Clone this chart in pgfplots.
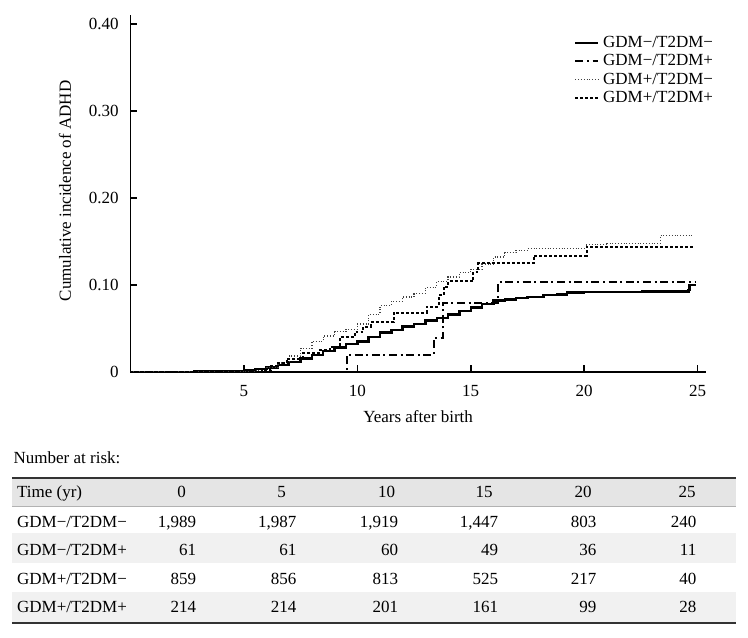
\documentclass[border=0pt]{standalone}
\usepackage{pgfplots}
\pgfplotsset{compat=1.18}
\usepackage{fontspec}
\setmainfont{Liberation Serif}
\begin{document}
\fontsize{8.5}{10}\selectfont
\begin{tikzpicture}
\begin{axis}[
  at={(0,0)}, anchor=south west,
  scale only axis, width=287.6pt, height=178.35pt,
  xmin=0, xmax=25.36, ymin=0, ymax=0.4107,
  axis lines=left, axis line style={-, line width=0.8pt, black},
  xtick={5,10,15,20,25}, xticklabels={5,10,15,20,25},
  ytick={0,0.1,0.2,0.3,0.4}, yticklabels={0,0.10,0.20,0.30,0.40},
  tick align=inside, major tick length=3.2pt,
  tick style={line width=0.8pt, black},
  xticklabel style={anchor=north, inner sep=0pt, yshift=-6.7pt},
  yticklabel style={anchor=east, inner sep=0pt, xshift=-5.75pt},
  xlabel={Years after birth},
  ylabel={Cumulative incidence of ADHD},
  xlabel style={at={(axis description cs:0.5,-0.126)}, anchor=center},
  ylabel style={at={(axis description cs:-0.1139,0.507)}, anchor=center},
  legend style={at={(axis description cs:0.7713,0.9476)}, anchor=north west,
    draw=none, fill=none, inner sep=0pt, outer sep=0pt, row sep=0pt,
    nodes={inner xsep=2pt, inner ysep=0.85pt, text height=6pt, text depth=1.5pt}},
  legend cell align=left,
  legend image code/.code={\draw[#1] (0pt,0pt) -- (11.3pt,0pt);},
  clip=true,
]
\addplot[const plot, line width=1.2pt, black] coordinates {
(0,0) (2.8,0.0005) (4.5,0.001) (5.0,0.002) (5.5,0.003) (6.0,0.005) (6.5,0.008)
(7.0,0.011) (7.5,0.015) (8.0,0.019) (8.5,0.024) (9.0,0.028) (9.5,0.032)
(10.0,0.035) (10.5,0.040) (11.0,0.045) (11.5,0.048) (12.0,0.052) (12.5,0.055)
(13.0,0.059) (13.5,0.062) (14.0,0.066) (14.5,0.070) (15.0,0.074) (15.5,0.078)
(16.0,0.082) (16.5,0.083) (17.0,0.085) (17.5,0.086) (18.2,0.088) (18.8,0.089)
(19.24,0.091) (20.0,0.0915) (22.55,0.0925) (24.6,0.094) (24.65,0.0998) (24.95,0.0998)
};
\addlegendentry{GDM−/T2DM−}
\addplot[const plot, line width=1pt, black, dash pattern=on 4pt off 1.8pt on 1pt off 1.8pt] coordinates {
(0,0) (9.54,0.0192) (13.36,0.039) (13.77,0.0795) (16.22,0.103) (24.9,0.103)
};
\addlegendentry{GDM−/T2DM+}
\addplot[const plot, line width=0.6pt, black!75, dash pattern=on 0.5pt off 0.9pt] coordinates {
(0,0) (5.5,0.001) (6.0,0.005) (6.5,0.010) (7.0,0.018) (7.5,0.027) (8.0,0.035)
(8.5,0.041) (9.0,0.046) (9.5,0.049) (10.0,0.055) (10.5,0.066) (11.0,0.076)
(11.5,0.081) (12.0,0.086) (12.5,0.090) (13.0,0.097) (13.5,0.104) (14.0,0.109)
(14.5,0.114) (15.0,0.118) (15.5,0.124) (16.0,0.132) (16.5,0.137) (17.0,0.140)
(17.5,0.142) (20.1,0.146) (21.0,0.148) (23.36,0.157) (24.75,0.157)
};
\addlegendentry{GDM+/T2DM−}
\addplot[const plot, line width=1pt, black, dash pattern=on 1.4pt off 1.1pt] coordinates {
(0,0) (5.8,0.002) (6.2,0.006) (6.45,0.010) (6.9,0.015) (7.6,0.021) (8.3,0.025)
(8.8,0.028) (9.24,0.040) (9.9,0.046) (10.27,0.052) (10.6,0.057) (11.6,0.068)
(13.06,0.075) (13.6,0.088) (13.8,0.098) (14.02,0.1044) (15.12,0.115)
(15.34,0.125) (17.77,0.1336) (20.12,0.144) (24.83,0.144)
};
\addlegendentry{GDM+/T2DM+}
\end{axis}
\begin{scope}[x=0.5pt, y=-0.5pt, shift={(-65.25pt,185.85pt)}]
\fill[gray!20] (12,477.7) rectangle (736,506);
\fill[gray!11] (12,533.3) rectangle (736,563.3);
\fill[gray!11] (12,591.7) rectangle (736,622.7);
\draw[line width=0.4pt, gray!60] (12,506) -- (736,506);
\draw[line width=1pt, black!80] (12,477.7) -- (736,477.7);
\draw[line width=1pt, black!80] (12,623) -- (736,623);
\tikzset{lab/.style={anchor=base west, inner sep=0pt}, num/.style={anchor=base east, inner sep=0pt}, hd/.style={anchor=base, inner sep=0pt}}
\node[lab] at (13.3,463) {Number at risk:};
\node[lab] at (16.7,497) {Time (yr)};
\node[hd] at (181.7,497) {0};
\node[hd] at (281.5,497) {5};
\node[hd] at (386.5,497) {10};
\node[hd] at (484,497) {15};
\node[hd] at (583,497) {20};
\node[hd] at (687,497) {25};
% row 1
\node[lab] at (16.7,527) {GDM−/T2DM−};
\node[num] at (196.6,527) {1,989};
\node[num] at (296.8,527) {1,987};
\node[num] at (398.4,527) {1,919};
\node[num] at (498.6,527) {1,447};
\node[num] at (596.7,527) {803};
\node[num] at (696.7,527) {240};
% row 2
\node[lab] at (16.7,555.8) {GDM−/T2DM+};
\node[num] at (196.6,555.8) {61};
\node[num] at (296.8,555.8) {61};
\node[num] at (398.4,555.8) {60};
\node[num] at (498.6,555.8) {49};
\node[num] at (596.7,555.8) {36};
\node[num] at (696.7,555.8) {11};
% row 3
\node[lab] at (16.7,584.8) {GDM+/T2DM−};
\node[num] at (196.6,584.8) {859};
\node[num] at (296.8,584.8) {856};
\node[num] at (398.4,584.8) {813};
\node[num] at (498.6,584.8) {525};
\node[num] at (596.7,584.8) {217};
\node[num] at (696.7,584.8) {40};
% row 4
\node[lab] at (16.7,612.5) {GDM+/T2DM+};
\node[num] at (196.6,612.5) {214};
\node[num] at (296.8,612.5) {214};
\node[num] at (398.4,612.5) {201};
\node[num] at (498.6,612.5) {161};
\node[num] at (596.7,612.5) {99};
\node[num] at (696.7,612.5) {28};
\pgfresetboundingbox
\path[use as bounding box] (0,0) rectangle (748,637);
\end{scope}
\end{tikzpicture}
\end{document}
